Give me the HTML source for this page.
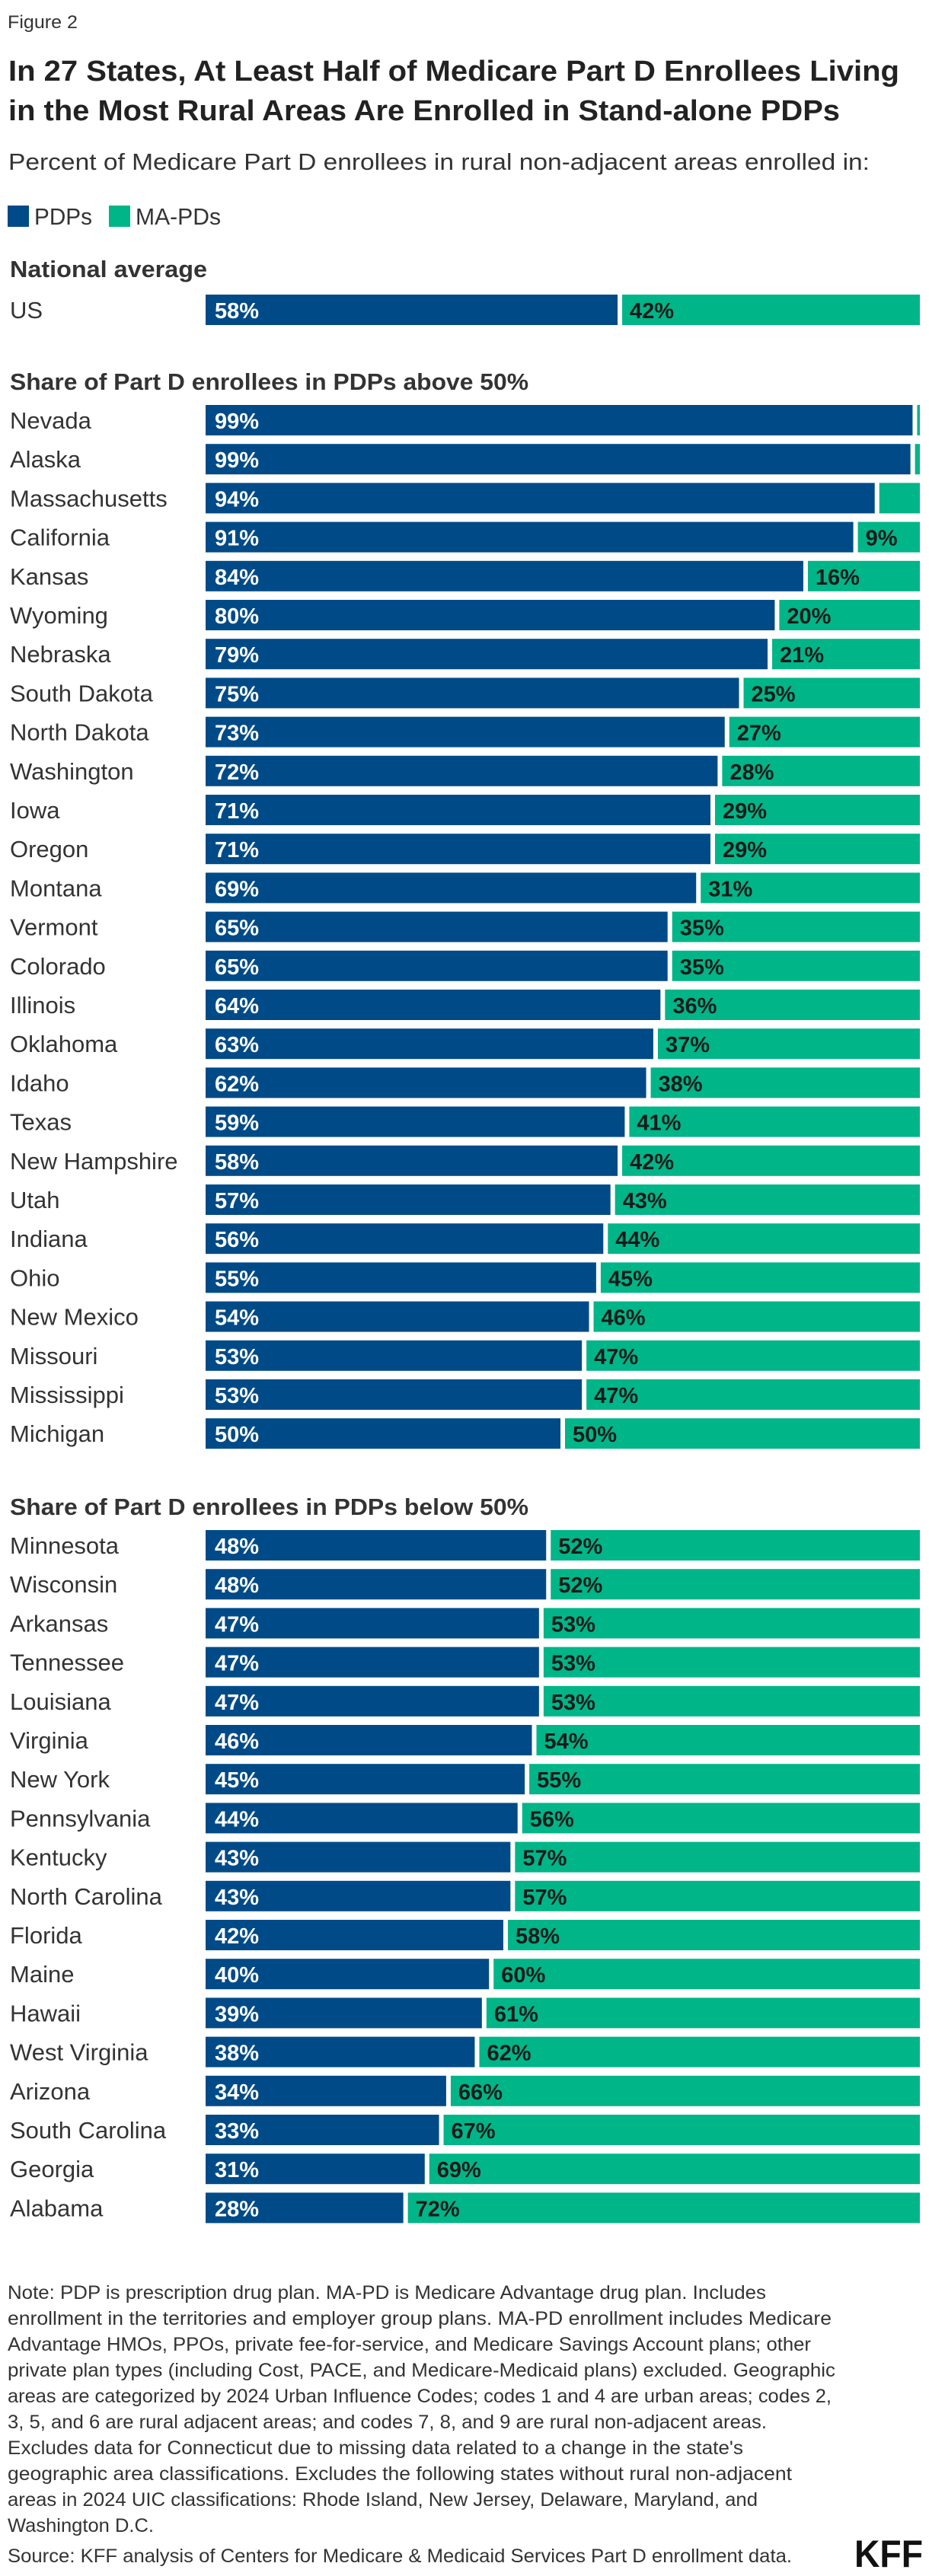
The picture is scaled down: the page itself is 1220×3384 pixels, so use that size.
<!DOCTYPE html>
<html><head><meta charset="utf-8"><title>Figure 2</title>
<style>
html,body{margin:0;padding:0;background:#fff;}
svg{display:block;font-family:"Liberation Sans",sans-serif;}
</style></head>
<body>
<svg id="chart" width="1220" height="3384" viewBox="0 0 1220 3384" xmlns="http://www.w3.org/2000/svg">
  <text x="10" y="37" font-size="24" fill="#333" textLength="92" lengthAdjust="spacingAndGlyphs">Figure 2</text>
  <text x="11" y="106" font-size="38" font-weight="bold" fill="#222" textLength="1170" lengthAdjust="spacingAndGlyphs">In 27 States, At Least Half of Medicare Part D Enrollees Living</text>
  <text x="11" y="158" font-size="38" font-weight="bold" fill="#222" textLength="1092" lengthAdjust="spacingAndGlyphs">in the Most Rural Areas Are Enrolled in Stand-alone PDPs</text>
  <text x="11" y="223" font-size="31" fill="#333" textLength="1131" lengthAdjust="spacingAndGlyphs">Percent of Medicare Part D enrollees in rural non-adjacent areas enrolled in:</text>
  <g>
    <rect x="10" y="270" width="28" height="28" fill="#004b87"/>
    <text x="45" y="295" font-size="31" fill="#333" textLength="76" lengthAdjust="spacingAndGlyphs">PDPs</text>
    <rect x="143" y="270" width="28" height="28" fill="#00b588"/>
    <text x="178" y="295" font-size="31" fill="#333" textLength="112" lengthAdjust="spacingAndGlyphs">MA-PDs</text>
  </g>
  <text x="13" y="364" font-size="31" font-weight="bold" fill="#333" textLength="259" lengthAdjust="spacingAndGlyphs">National average</text>
  <text x="13" y="512" font-size="31" font-weight="bold" fill="#333" textLength="681" lengthAdjust="spacingAndGlyphs">Share of Part D enrollees in PDPs above 50%</text>
  <text x="13" y="1990" font-size="31" font-weight="bold" fill="#333" textLength="681" lengthAdjust="spacingAndGlyphs">Share of Part D enrollees in PDPs below 50%</text>
  <g id="bars"></g>
  <g font-size="25" fill="#333">
    <text x="10" y="3020" textLength="996" lengthAdjust="spacingAndGlyphs">Note: PDP is prescription drug plan. MA-PD is Medicare Advantage drug plan. Includes</text>
    <text x="10" y="3054" textLength="1082" lengthAdjust="spacingAndGlyphs">enrollment in the territories and employer group plans. MA-PD enrollment includes Medicare</text>
    <text x="10" y="3088" textLength="1055" lengthAdjust="spacingAndGlyphs">Advantage HMOs, PPOs, private fee-for-service, and Medicare Savings Account plans; other</text>
    <text x="10" y="3122" textLength="1087" lengthAdjust="spacingAndGlyphs">private plan types (including Cost, PACE, and Medicare-Medicaid plans) excluded. Geographic</text>
    <text x="10" y="3156" textLength="1082" lengthAdjust="spacingAndGlyphs">areas are categorized by 2024 Urban Influence Codes; codes 1 and 4 are urban areas; codes 2,</text>
    <text x="10" y="3190" textLength="997" lengthAdjust="spacingAndGlyphs">3, 5, and 6 are rural adjacent areas; and codes 7, 8, and 9 are rural non-adjacent areas.</text>
    <text x="10" y="3224" textLength="966" lengthAdjust="spacingAndGlyphs">Excludes data for Connecticut due to missing data related to a change in the state's</text>
    <text x="10" y="3258" textLength="1030" lengthAdjust="spacingAndGlyphs">geographic area classifications. Excludes the following states without rural non-adjacent</text>
    <text x="10" y="3292" textLength="985" lengthAdjust="spacingAndGlyphs">areas in 2024 UIC classifications: Rhode Island, New Jersey, Delaware, Maryland, and</text>
    <text x="10" y="3326" textLength="192" lengthAdjust="spacingAndGlyphs">Washington D.C.</text>
    <text x="10" y="3366" textLength="1030" lengthAdjust="spacingAndGlyphs">Source: KFF analysis of Centers for Medicare &amp; Medicaid Services Part D enrollment data.</text>
  </g>
  <text x="1122" y="3372" font-size="50" font-weight="bold" fill="#111" textLength="90" lengthAdjust="spacingAndGlyphs">KFF</text>
</svg>
<script>
const usCategories = ["US"];
const usPdp = [58];
const usMapd = [42];
const aboveCategories = ["Nevada","Alaska","Massachusetts","California","Kansas","Wyoming","Nebraska","South Dakota","North Dakota","Washington","Iowa","Oregon","Montana","Vermont","Colorado","Illinois","Oklahoma","Idaho","Texas","New Hampshire","Utah","Indiana","Ohio","New Mexico","Missouri","Mississippi","Michigan"];
const abovePdp = [99.3,99,94,91,84,80,79,75,73,72,71,71,69,65,65,64,63,62,59,58,57,56,55,54,53,53,50];
const aboveMapd = [0.7,1,6,9,16,20,21,25,27,28,29,29,31,35,35,36,37,38,41,42,43,44,45,46,47,47,50];
const belowCategories = ["Minnesota","Wisconsin","Arkansas","Tennessee","Louisiana","Virginia","New York","Pennsylvania","Kentucky","North Carolina","Florida","Maine","Hawaii","West Virginia","Arizona","South Carolina","Georgia","Alabama"];
const belowPdp = [48,48,47,47,47,46,45,44,43,43,42,40,39,38,34,33,31,28];
const belowMapd = [52,52,53,53,53,54,55,56,57,57,58,60,61,62,66,67,69,72];

const NS = "http://www.w3.org/2000/svg";
const X0 = 270, XW = 938, GAP = 3, BARH = 40;
function xScale(p){ return X0 + XW * p / 100; }
const g = document.getElementById('bars');
function mk(tag, attrs){ const e = document.createElementNS(NS, tag); for (const k in attrs) e.setAttribute(k, attrs[k]); return e; }

function drawGroup(cats, pdp, mapd, top0, pitch, key){
  cats.forEach((c, i) => {
    const y = top0 + i * pitch;
    const total = pdp[i] + mapd[i];
    const split = xScale(pdp[i] / total * 100);
    const lab = mk('text', {x: 13, y: y + 31, 'font-size': 31, fill: '#333'});
    
    
    lab.textContent = c; g.appendChild(lab);
    const r1 = mk('rect', {x: X0, y: y, width: Math.max(0, split - GAP - X0), height: BARH, fill: '#004b87'});
    
    
    g.appendChild(r1);
    const r2 = mk('rect', {x: split + GAP, y: y, width: Math.max(0, xScale(100) - split - GAP), height: BARH, fill: '#00b588'});
    
    
    g.appendChild(r2);
    const t1 = mk('text', {x: X0 + 12, y: y + 31, 'font-size': 29, 'font-weight': 'bold', fill: '#fff'});
    
    
    t1.textContent = Math.round(pdp[i]) + '%'; g.appendChild(t1);
    if (mapd[i] >= 8) {
      const t2 = mk('text', {x: split + GAP + 10, y: y + 31, 'font-size': 29, 'font-weight': 'bold', fill: '#1a1a1a'});
      
      
      t2.textContent = Math.round(mapd[i]) + '%'; g.appendChild(t2);
    }
  });
}
drawGroup(usCategories, usPdp, usMapd, 387, 51.2, 'us');
drawGroup(aboveCategories, abovePdp, aboveMapd, 532, 51.2, 'above');
drawGroup(belowCategories, belowPdp, belowMapd, 2010, 51.2, 'below');
</script>
</body></html>
